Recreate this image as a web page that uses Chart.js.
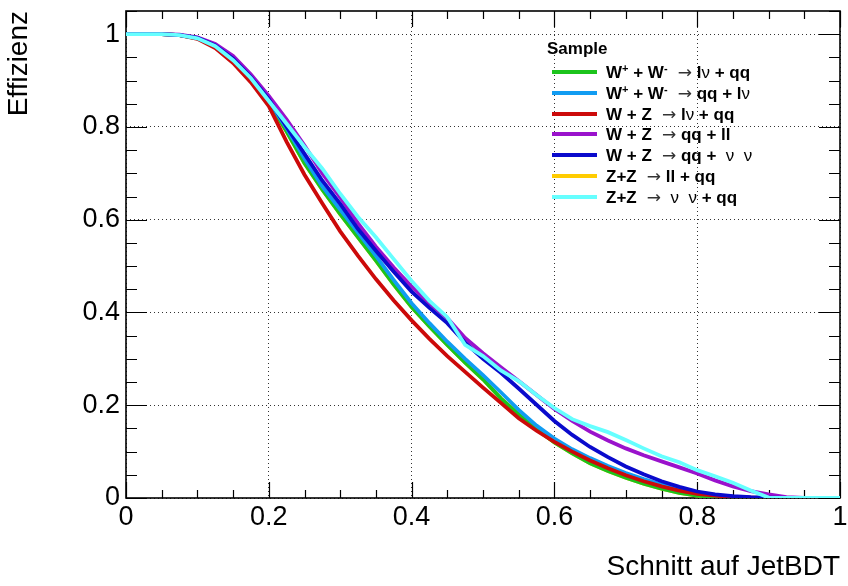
<!DOCTYPE html>
<html>
<head>
<meta charset="utf-8">
<script src="https://cdn.jsdelivr.net/npm/chart.js@4.4.2/dist/chart.umd.min.js"></script>
<style>
  html, body { margin: 0; padding: 0; background: #fff; }
  #wrap { position: relative; width: 848px; height: 586px; }
  #legend { position: absolute; left: 0; top: 0; font: bold 17px "Liberation Sans", Arial, sans-serif; color: #000; }
  #legend .head { position: absolute; left: 547px; top: 39px; line-height: 20px; white-space: nowrap; }
  #legend .row { position: absolute; left: 552px; height: 20px; line-height: 20px; white-space: nowrap; }
  #legend .swatch { position: absolute; left: 0; top: 8px; width: 45px; height: 4px; }
  #legend .txt { position: absolute; left: 54px; top: 0; }
  #legend sup { font-size: 11px; vertical-align: 6px; line-height: 0; }
  #legend .sym { font-weight: normal; }
  #legend .arr { font-weight: normal; font-family: "DejaVu Sans", sans-serif; font-size: 17px; color: #333; }
</style>
</head>
<body>
<div id="wrap">
  <canvas id="chart" width="848" height="586"></canvas>
  <div id="legend"></div>
</div>
<script>
// cut values on JetBDT (x) and efficiency per sample (y)
const cuts = [0, 0.025, 0.05, 0.075, 0.1, 0.125, 0.15, 0.175, 0.2, 0.225,
  0.25, 0.275, 0.3, 0.325, 0.35, 0.375, 0.4, 0.425, 0.45, 0.475,
  0.5, 0.525, 0.55, 0.575, 0.6, 0.625, 0.65, 0.675, 0.7, 0.725,
  0.75, 0.775, 0.8, 0.825, 0.85, 0.875, 0.9, 0.925, 0.95, 0.975, 1.0];

const effWWlvqq = [1, 1, 1, 0.998, 0.991, 0.974, 0.944, 0.902, 0.853, 0.79,
  0.722, 0.665, 0.612, 0.562, 0.512, 0.46, 0.412, 0.37, 0.33, 0.292,
  0.256, 0.215, 0.18, 0.148, 0.12, 0.096, 0.075, 0.058, 0.044, 0.031,
  0.02, 0.011, 0.005, 0.002, 0.001, 0, 0, 0, 0, 0, 0];
const effWWqqlv = [1, 1, 1, 0.998, 0.991, 0.975, 0.946, 0.905, 0.856, 0.797,
  0.732, 0.672, 0.622, 0.572, 0.522, 0.47, 0.42, 0.377, 0.337, 0.3,
  0.265, 0.228, 0.19, 0.156, 0.128, 0.105, 0.086, 0.069, 0.054, 0.041,
  0.029, 0.019, 0.011, 0.006, 0.003, 0.001, 0, 0, 0, 0, 0];
const effWZlvqq = [1, 1, 1, 0.998, 0.99, 0.97, 0.938, 0.896, 0.845, 0.768,
  0.697, 0.635, 0.575, 0.522, 0.472, 0.426, 0.383, 0.343, 0.306, 0.272,
  0.238, 0.205, 0.172, 0.145, 0.121, 0.1, 0.081, 0.064, 0.049, 0.036,
  0.025, 0.016, 0.009, 0.005, 0.002, 0.001, 0, 0, 0, 0, 0];
const effWZqqll = [1, 1, 1, 0.999, 0.993, 0.979, 0.953, 0.913, 0.867, 0.816,
  0.76, 0.7, 0.648, 0.592, 0.542, 0.497, 0.456, 0.42, 0.388, 0.345,
  0.312, 0.282, 0.252, 0.222, 0.192, 0.166, 0.143, 0.124, 0.107, 0.092,
  0.079, 0.066, 0.053, 0.038, 0.025, 0.015, 0.008, 0.002, 0, 0, 0];
const effWZqqvv = [1, 1, 1, 0.998, 0.992, 0.976, 0.947, 0.907, 0.86, 0.8,
  0.742, 0.684, 0.634, 0.58, 0.533, 0.488, 0.445, 0.41, 0.377, 0.335,
  0.3, 0.27, 0.236, 0.201, 0.166, 0.136, 0.11, 0.088, 0.068, 0.051,
  0.036, 0.024, 0.014, 0.008, 0.004, 0.002, 0.001, 0, 0, 0, 0];
const effZZllqq = [1, 1, 1, 0.998, 0.991, 0.974, 0.944, 0.902, 0.853, 0.79,
  0.722, 0.665, 0.612, 0.562, 0.512, 0.46, 0.412, 0.37, 0.33, 0.292,
  0.256, 0.215, 0.18, 0.148, 0.12, 0.096, 0.075, 0.058, 0.044, 0.031,
  0.02, 0.011, 0.005, 0.002, 0.001, 0, 0, 0, 0, 0, 0];
const effZZvvqq = [1, 1, 1, 0.998, 0.991, 0.974, 0.944, 0.905, 0.856, 0.807,
  0.757, 0.71, 0.656, 0.606, 0.562, 0.515, 0.468, 0.425, 0.39, 0.33,
  0.306, 0.275, 0.252, 0.222, 0.194, 0.17, 0.155, 0.142, 0.125, 0.107,
  0.09, 0.077, 0.06, 0.047, 0.033, 0.016, 0.001, 0, 0, 0, 0];

const ARR = '<span class="arr">&nbsp;→</span>';
const NU = '<span class="sym">ν</span>';
const sampleLabels = [
  `W<sup>+</sup> + W<sup>-</sup> ${ARR} l${NU} + qq`,
  `W<sup>+</sup> + W<sup>-</sup> ${ARR} qq + l${NU}`,
  `W + Z ${ARR} l${NU} + qq`,
  `W + Z ${ARR} qq + ll`,
  `W + Z ${ARR} qq + &nbsp;${NU}&nbsp; ${NU}`,
  `Z+Z ${ARR} ll + qq`,
  `Z+Z ${ARR} &nbsp;${NU}&nbsp; ${NU} + qq`
];
const sampleColors = ['#1cc41c', '#119cf2', '#cc0a0a', '#9a12cc', '#0a0acc', '#ffcc00', '#66ffff'];
const sampleData = [effWWlvqq, effWWqqlv, effWZlvqq, effWZqqll, effWZqqvv, effZZllqq, effZZvvqq];
// drawing order: later samples on top, yellow hidden underneath
const drawOrder = [5, 4, 3, 2, 1, 6, 0];

const xTicks = [0, 0.2, 0.4, 0.6, 0.8, 1];
const yTicks = [0, 0.2, 0.4, 0.6, 0.8, 1];
const xMinorTicks = [0.05, 0.1, 0.15, 0.25, 0.3, 0.35, 0.45, 0.5, 0.55, 0.65, 0.7, 0.75, 0.85, 0.9, 0.95];
const yMinorTicks = [0.05, 0.1, 0.15, 0.25, 0.3, 0.35, 0.45, 0.5, 0.55, 0.65, 0.7, 0.75, 0.85, 0.9, 0.95, 1.05];

const FONT = '"Liberation Sans", Arial, Helvetica, sans-serif';

// ── Legend (html, inside the frame) ─────────────────────────
const legend = document.getElementById('legend');
legend.innerHTML = '<div class="head">Sample</div>' + sampleLabels.map((lab, i) =>
  `<div class="row" style="top:${62 + i * 20.8}px"><span class="swatch" style="background:${sampleColors[i]}"></span><span class="txt">${lab}</span></div>`
).join('');

// ── Frame + inner ticks on all four sides ───────────────────
const frameTicks = {
  id: 'frameTicks',
  beforeDatasetsDraw(chart) {
    const { ctx, chartArea: a, scales: { x, y } } = chart;
    ctx.save();
    ctx.strokeStyle = '#000';
    ctx.lineWidth = 1.2;
    ctx.beginPath();
    const xt = (v, len) => {
      const p = Math.round(x.getPixelForValue(v)) + 0.5;
      ctx.moveTo(p, a.bottom); ctx.lineTo(p, a.bottom - len);
      ctx.moveTo(p, a.top); ctx.lineTo(p, a.top + len);
    };
    const yt = (v, len) => {
      const p = Math.round(y.getPixelForValue(v)) + 0.5;
      ctx.moveTo(a.left, p); ctx.lineTo(a.left + len, p);
      ctx.moveTo(a.right, p); ctx.lineTo(a.right - len, p);
    };
    xTicks.forEach(v => xt(v, 16));
    xMinorTicks.forEach(v => xt(v, 8));
    yTicks.forEach(v => yt(v, 21));
    yMinorTicks.forEach(v => yt(v, 11));
    ctx.stroke();
    ctx.lineWidth = 1.6;
    ctx.strokeRect(a.left, a.top, a.right - a.left, a.bottom - a.top);
    ctx.restore();
  }
};

new Chart(document.getElementById('chart'), {
  type: 'line',
  data: {
    datasets: sampleData.map((vals, i) => ({
      label: sampleLabels[i],
      data: cuts.map((c, k) => ({ x: c, y: vals[k] })),
      borderColor: sampleColors[i],
      backgroundColor: sampleColors[i],
      borderWidth: 3.8,
      pointRadius: 0,
      tension: 0,
      fill: false,
      order: drawOrder[i],
    })),
  },
  options: {
    responsive: false,
    animation: false,
    devicePixelRatio: 1,
    layout: { padding: { top: 11, right: 8, left: 0, bottom: 0 } },
    plugins: { legend: { display: false }, tooltip: { enabled: false } },
    scales: {
      x: {
        type: 'linear', min: 0, max: 1,
        afterBuildTicks: s => { s.ticks = xTicks.map(v => ({ value: v })); },
        afterFit: s => { s.height = 88; s.paddingLeft = 0; s.paddingRight = 0; },
        ticks: { color: '#000', font: { family: FONT, size: 27 }, padding: 3, maxRotation: 0,
          callback: v => (v === 0 || v === 1) ? String(v) : v.toFixed(1) },
        grid: { color: '#333', lineWidth: 1, drawTicks: false },
        border: { display: false, dash: [1, 3] },
        title: { display: true, text: 'Schnitt auf JetBDT', align: 'end', color: '#000',
          font: { family: FONT, size: 28 }, padding: { top: 0, bottom: 2 } },
      },
      y: {
        type: 'linear', min: 0, max: 1.05,
        afterBuildTicks: s => { s.ticks = yTicks.map(v => ({ value: v })); },
        afterFit: s => { s.width = 126; s.paddingTop = 0; s.paddingBottom = 0; },
        ticks: { color: '#000', font: { family: FONT, size: 27 }, padding: 6,
          callback: v => (v === 0 || v === 1) ? String(v) : v.toFixed(1) },
        grid: { color: '#333', lineWidth: 1, drawTicks: false },
        border: { display: false, dash: [1, 3] },
        title: { display: true, text: 'Effizienz', align: 'end', color: '#000',
          font: { family: FONT, size: 28 }, padding: { top: 2, bottom: 0 } },
      },
    },
  },
  plugins: [frameTicks],
});
</script>
</body>
</html>
